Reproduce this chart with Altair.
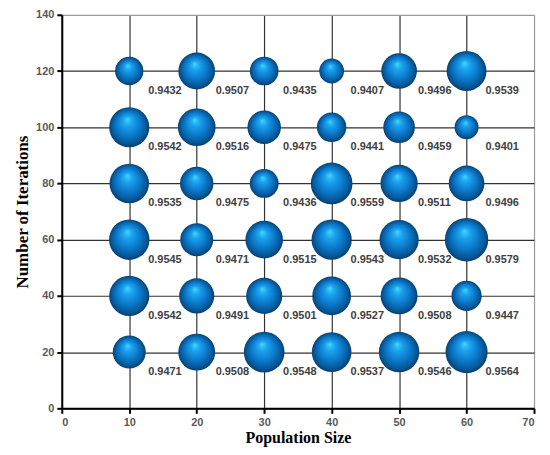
import altair as alt
import pandas as pd

population = [10, 20, 30, 40, 50, 60]
iterations = [120, 100, 80, 60, 40, 20]
fitness = [
    [0.9432, 0.9507, 0.9435, 0.9407, 0.9496, 0.9539],  # 120
    [0.9542, 0.9516, 0.9475, 0.9441, 0.9459, 0.9401],  # 100
    [0.9535, 0.9475, 0.9436, 0.9559, 0.9511, 0.9496],  # 80
    [0.9545, 0.9471, 0.9515, 0.9543, 0.9532, 0.9579],  # 60
    [0.9542, 0.9491, 0.9501, 0.9527, 0.9508, 0.9447],  # 40
    [0.9471, 0.9508, 0.9548, 0.9537, 0.9546, 0.9564],  # 20
]

rows = []
for it, vals in zip(iterations, fitness):
    for p, v in zip(population, vals):
        rows.append({"pop": p, "iter": it, "val": v, "lab": f"{v:.4f}"})
df = pd.DataFrame(rows)

sphere = alt.Gradient(
    gradient="radial",
    x1=0.45, y1=0.3, r1=0.0,
    x2=0.5, y2=0.5, r2=0.5,
    stops=[
        alt.GradientStop(color="#40d8ff", offset=0),
        alt.GradientStop(color="#1ba2ec", offset=0.25),
        alt.GradientStop(color="#0b78cc", offset=0.6),
        alt.GradientStop(color="#065692", offset=0.88),
        alt.GradientStop(color="#0a3e72", offset=1),
    ],
)

grid_color = {
    "condition": {"test": "datum.value === 140 || datum.value === 70", "value": "#9a9a9a"},
    "value": "#333333",
}

x_enc = alt.X(
    "pop:Q",
    scale=alt.Scale(domain=[0, 70], nice=False),
    axis=alt.Axis(values=[0, 10, 20, 30, 40, 50, 60, 70], title="Population Size",
                  titlePadding=2, titleFontSize=16, gridColor=grid_color),
)
y_enc = alt.Y(
    "iter:Q",
    scale=alt.Scale(domain=[0, 140], nice=False),
    axis=alt.Axis(values=[0, 20, 40, 60, 80, 100, 120, 140], title="Number of Iterations",
                  titlePadding=4, gridColor=grid_color),
)

bubbles = alt.Chart(df).mark_circle(color=sphere, opacity=1).encode(
    x=x_enc,
    y=y_enc,
    size=alt.Size("val:Q", scale=alt.Scale(domain=[0.9401, 0.9579], range=[576, 1900], zero=False), legend=None),
)

labels = alt.Chart(df).mark_text(
    align="left", baseline="middle", dx=19, dy=20,
    font="Liberation Sans", fontWeight="bold", fontSize=11, color="#404040",
).encode(x="pop:Q", y="iter:Q", text="lab:N")

chart = alt.layer(bubbles, labels).properties(
    width=474, height=395,
    autosize=alt.AutoSizeParams(type="none"),
    padding={"left": 54, "top": 6, "right": 8, "bottom": 38},
).configure_view(stroke=None).configure_axis(
    grid=True, gridWidth=1.2,
    domainColor="#000000", domainWidth=2,
    tickColor="#000000", tickWidth=2, tickSize=5,
    labelFont="Liberation Sans", labelFontWeight="bold", labelFontSize=11, labelColor="#595959",
    labelPadding=3,
    titleFont="Liberation Serif", titleFontWeight="bold", titleFontSize=17, titleColor="#000000",
)

chart.save("out.html", embed_options={"renderer": "svg", "actions": False})
